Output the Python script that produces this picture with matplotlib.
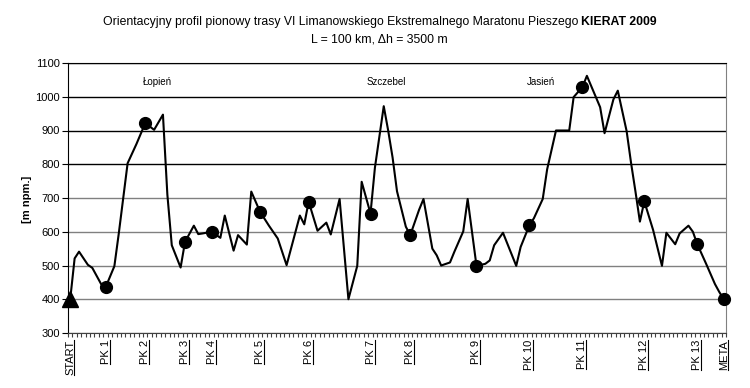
import matplotlib
matplotlib.use("Agg")
import matplotlib.pyplot as plt
from matplotlib.lines import Line2D

plt.rcParams['font.family'] = ['Liberation Sans', 'DejaVu Sans']

# profile vertices: category index along the route, elevation [m npm.]
route_idx = [0, 1, 2, 4, 5, 7, 8, 10, 11, 13, 15, 17, 19, 21, 22, 23, 25, 26, 28, 29,
             30, 32, 34, 35, 37, 38, 40, 41, 43, 45, 47, 49, 50, 52, 53, 54, 56, 58, 59, 61,
             63, 65, 66, 68, 69, 71, 72, 73, 74, 76, 77, 79, 80, 82, 83, 84, 86, 87, 89, 90,
             92, 94, 95, 96, 98, 101, 102, 104, 105, 107, 108, 110, 113, 114, 116, 117, 119, 120, 121, 123,
             124, 126, 127, 128, 129, 130, 132, 134, 135, 137, 138, 140, 141, 142, 144, 146, 147, 148]
elev = [400, 521, 541, 502, 493, 445, 435, 498, 595, 803, 860, 922, 902, 947, 710, 560, 494, 570, 618, 593,
        595, 600, 582, 648, 544, 590, 562, 719, 659, 618, 580, 501, 550, 648, 622, 689, 603, 627, 592, 697,
        400, 499, 748, 654, 790, 972, 900, 820, 720, 615, 590, 665, 697, 550, 530, 500, 509, 541, 601, 697,
        499, 505, 515, 560, 597, 499, 555, 620, 640, 697, 785, 900, 900, 999, 1029, 1062, 1000, 969, 892, 992,
        1018, 898, 804, 719, 630, 690, 605, 499, 597, 563, 595, 618, 600, 563, 505, 445, 421, 400]

n_cat = 149

# checkpoints
cp_idx = [0, 8, 17, 26, 32, 43, 54, 68, 77, 92, 104, 116, 130, 142, 148]
cp_labels = ['START', 'PK 1', 'PK 2', 'PK 3', 'PK 4', 'PK 5', 'PK 6', 'PK 7', 'PK 8',
             'PK 9', 'PK 10', 'PK 11', 'PK 12', 'PK 13', 'META']

# summits
peak_names = ['Łopień', 'Szczebel', 'Jasień']
peak_x = [19.7, 71.5, 106.7]

W, H = 750, 388
fig = plt.figure(figsize=(7.5, 3.88), dpi=100)
ax = fig.add_axes([68 / W, 1 - 333 / H, 658 / W, 270 / H])

ax.plot(route_idx, elev, color='black', lw=1.5, zorder=3)

lookup = dict(zip(route_idx, elev))
pk_x = cp_idx[1:]
pk_y = [lookup[i] for i in pk_x]
ax.plot(pk_x, pk_y, 'o', color='black', ms=8.5, zorder=4, clip_on=False)
ax.plot(cp_idx[0], lookup[cp_idx[0]], '^', color='black', ms=11, zorder=4, clip_on=False)

for name, px in zip(peak_names, peak_x):
    ax.text(px, 1044, name, ha='center', va='center', fontsize=7)

ax.set_xlim(-0.5, n_cat - 0.5)
ax.set_ylim(300, 1100)
ax.set_yticks(range(300, 1101, 100))
ax.yaxis.grid(True, color='black', lw=1)
ax.set_axisbelow(True)
# lower grid lines look grey in the original
for val, gl in zip(range(300, 1101, 100), ax.get_ygridlines()):
    if val <= 700:
        gl.set_color('#808080')

ax.set_xticks(cp_idx)
ax.set_xticklabels(cp_labels, rotation=90)
ax.set_xticks([i - 0.5 for i in range(n_cat + 1)], minor=True)
ax.tick_params(axis='x', which='major', length=0, pad=5, labelsize=8)
ax.tick_params(axis='x', which='minor', length=3, direction='out', width=0.8, color='#404040')
ax.tick_params(axis='y', length=4, labelsize=8, pad=2)

ax.spines['right'].set_color('#808080')
ax.spines['top'].set_color('black')
ax.spines['bottom'].set_color('#404040')

fig.text(27 / W, 1 - 199.5 / H, '[m npm.]', rotation=90, ha='center', va='center',
         fontsize=8, fontweight='bold')

# title, normal + bold part
t_a = fig.text(0, 1 - 22 / H, 'Orientacyjny profil pionowy trasy VI Limanowskiego Ekstremalnego Maratonu Pieszego',
               ha='left', va='center', fontsize=8.8)
t_b = fig.text(0, 1 - 22 / H, 'KIERAT 2009', ha='left', va='center', fontsize=8.8, fontweight='bold')
fig.text(379 / W, 1 - 40 / H, 'L = 100 km, Δh = 3500 m', ha='center', va='center', fontsize=8.8)

fig.canvas.draw()
r = fig.canvas.get_renderer()
wa = t_a.get_window_extent(r).width
wb = t_b.get_window_extent(r).width
x0 = 380 - (wa + 3 + wb) / 2
t_a.set_x(x0 / W)
t_b.set_x((x0 + wa + 3) / W)

# underline the rotated checkpoint labels
for lbl in ax.get_xticklabels():
    bb = lbl.get_window_extent(r)
    fig.add_artist(Line2D([(bb.x1 - 1) / W] * 2, [bb.y0 / H, bb.y1 / H],
                          transform=fig.transFigure, color='black', lw=0.8))

fig.savefig('out.png', dpi=100)
